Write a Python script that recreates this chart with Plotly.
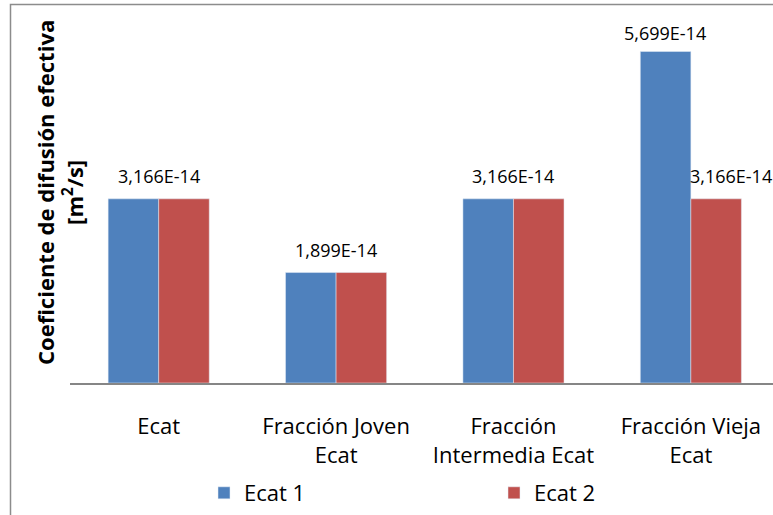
import plotly.graph_objects as go

# Coefficient data per catalyst fraction
categories = ["Ecat", "Fracción Joven Ecat", "Fracción Intermedia Ecat", "Fracción Vieja Ecat"]
tick_labels = ["Ecat", "Fracción Joven<br>Ecat", "Fracción<br>Intermedia Ecat", "Fracción Vieja<br>Ecat"]
ecat1 = [3.166e-14, 1.899e-14, 3.166e-14, 5.699e-14]
ecat2 = [3.166e-14, 1.899e-14, 3.166e-14, 3.166e-14]

BLUE = "#4F81BD"
RED = "#C0504D"
FONT = "Open Sans"

W, H = 773, 515
ML, MR, MT, MB = 70, 0, 34, 132
PW, PH = W - ML - MR, H - MT - MB

fig = go.Figure()
fig.add_trace(go.Bar(x=categories, y=ecat1, name="Ecat 1", marker_color=BLUE))
fig.add_trace(go.Bar(x=categories, y=ecat2, name="Ecat 2", marker_color=RED))


def fmt(v):
    mant, exp = f"{v:.3E}".split("E")
    return f"{mant.replace('.', ',')}E{int(exp):+03d}".replace("+", "")


# Value labels: shared label when both series match, otherwise one per bar
annotations = []
for cat, a, b in zip(categories, ecat1, ecat2):
    if a == b:
        annotations.append(dict(x=cat, y=a, text=fmt(a), xanchor="center", yanchor="bottom",
                                xshift=0, yshift=9, showarrow=False))
    else:
        annotations.append(dict(x=cat, y=a, text=fmt(a), xanchor="center", yanchor="bottom",
                                xshift=-26, yshift=5, showarrow=False))
        annotations.append(dict(x=cat, y=b, text=fmt(b), xanchor="left", yanchor="bottom",
                                xshift=-3, yshift=9, showarrow=False))
for ann in annotations:
    ann["font"] = dict(family=FONT, size=18, color="#000000")

# Vertical axis title (two lines)
annotations.append(dict(
    xref="paper", yref="paper",
    x=(59 - ML) / PW, y=1 - (193 - MT) / PH,
    text="<b>Coeficiente de difusión efectiva<br>[m<sup>2</sup>/s]</b>",
    textangle=-90, showarrow=False, xanchor="center", yanchor="middle",
    font=dict(family=FONT, size=22, color="#000000"),
))

# Chart-area frame
shapes = [dict(
    type="path", xref="paper", yref="paper",
    path=f"M {(10.5 - ML) / PW} {1 - (H + 5 - MT) / PH} L {(10.5 - ML) / PW} {1 + (MT - 4.5) / PH} "
         f"L {(W + 10 - ML) / PW} {1 + (MT - 4.5) / PH}",
    line=dict(color="#8C8C8C", width=1.5),
)]

fig.update_layout(
    width=W, height=H,
    margin=dict(l=ML, r=MR, t=MT, b=MB, pad=0),
    paper_bgcolor="white", plot_bgcolor="white",
    barmode="group", bargap=0.43, bargroupgap=0,
    font=dict(family=FONT, size=22, color="#000000"),
    showlegend=True,
    legend=dict(orientation="h", xref="container", yref="container",
                x=204 / W, y=(H - 493) / H, xanchor="left", yanchor="middle",
                entrywidth=245, entrywidthmode="pixels",
                font=dict(family=FONT, size=22, color="#000000"),
                bgcolor="rgba(0,0,0,0)"),
    annotations=annotations,
    shapes=shapes,
)
fig.update_xaxes(
    type="category", categoryorder="array", categoryarray=categories,
    tickvals=categories, ticktext=tick_labels,
    range=[-0.5, 3.463],
    showline=True, linecolor="#868686", linewidth=2,
    ticks="", showgrid=False, ticklabelstandoff=23,
    tickfont=dict(family=FONT, size=22, color="#000000"),
)
fig.update_yaxes(
    range=[0, 6e-14], showline=False, showgrid=False, zeroline=False,
    showticklabels=False, ticks="",
)

fig.write_html("out.html")
